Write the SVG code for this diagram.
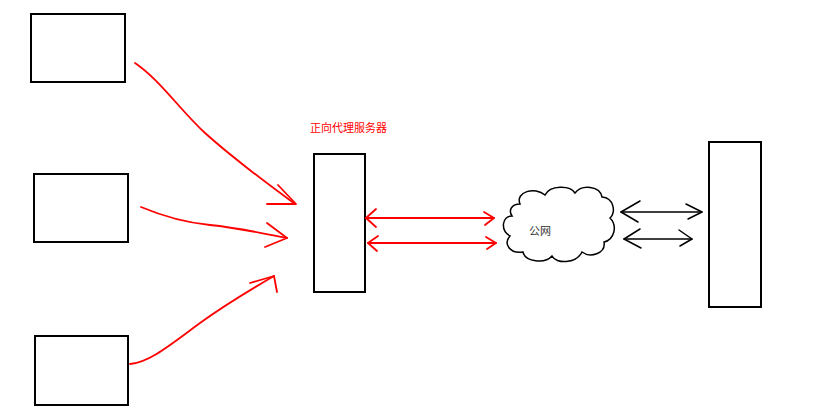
<svg xmlns="http://www.w3.org/2000/svg" width="831" height="414" viewBox="0 0 831 414">
<style>
.box{fill:#fff;stroke:#000;stroke-width:2}
.red{fill:none;stroke:#f00;stroke-width:1.8;stroke-linecap:round;stroke-linejoin:round}
.blk{fill:none;stroke:#000;stroke-width:1.5;stroke-linecap:round;stroke-linejoin:round}
.lbl{font-family:"Liberation Sans","Noto Sans CJK SC",sans-serif;font-size:11px}
</style>
<rect width="831" height="414" fill="#fff"/>
<g id="client1"><rect class="box" x="31" y="14" width="94" height="68"/></g>
<g id="client2"><rect class="box" x="34" y="174" width="94" height="68"/></g>
<g id="client3"><rect class="box" x="35" y="336" width="93" height="69"/></g>
<g id="proxy">
<rect class="box" x="314" y="154" width="51" height="138"/>
<text class="lbl" x="310" y="132" fill="#f00">正向代理服务器</text>
</g>
<g id="internet">
<path d="M520,204 C515,192 535,186 545,195 C550,185 570,185 575,193 C582,184 600,186 602,197 C614,198 616,212 610,218 C618,226 614,240 604,242 C606,254 590,258 582,252 C576,264 556,264 552,256 C545,264 525,262 523,252 C510,254 503,244 510,236 C500,230 502,216 512,216 C508,210 512,204 520,204 Z" fill="#fff" stroke="#000" stroke-width="1.5"/>
<text class="lbl" x="529" y="235" fill="#333">公网</text>
</g>
<g id="server"><rect class="box" x="709" y="142" width="52" height="165"/></g>
<g id="connectors">
<path class="red" d="M135,63 C160,80 180,110 205,133 C235,160 265,182 295,204"/>
<path class="red" d="M278,185 L296,204 L267,204"/>
<path class="red" d="M141,207 C160,215 180,222 210,225 C240,228 265,234 287,238"/>
<path class="red" d="M267,223 L287,238 L265,247"/>
<path class="red" d="M130,364 C150,362 170,345 200,323 C225,305 250,290 274,276"/>
<path class="red" d="M250,283 L274,276 L277,292"/>
<path class="red" d="M366,218 L494,218"/>
<path class="red" d="M376,209 L366,218 L376,227"/>
<path class="red" d="M484,212 L494,218 L485,225"/>
<path class="red" d="M368,243 L496,243"/>
<path class="red" d="M378,236 L368,243 L377,251"/>
<path class="red" d="M486,237 L496,243 L487,249"/>
<path class="blk" d="M621,212 L702,212"/>
<path class="blk" d="M640,201 L621,212 L638,222"/>
<path class="blk" d="M686,204 L702,212 L688,219"/>
<path class="blk" d="M624,239 L692,239"/>
<path class="blk" d="M640,229 L624,239 L641,248"/>
<path class="blk" d="M679,230 L692,239 L680,246"/>
</g>
</svg>
